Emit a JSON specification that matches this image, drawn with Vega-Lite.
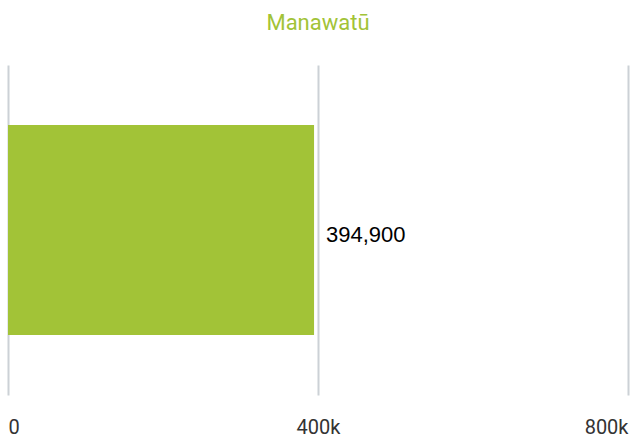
{
  "$schema": "https://vega.github.io/schema/vega-lite/v6.json",
  "autosize": "none",
  "width": 620,
  "height": 330,
  "padding": {"left": 8, "top": 65, "right": 4, "bottom": 43},
  "background": "white",
  "title": {
    "text": "Manawatū",
    "color": "#a2c337",
    "font": "Roboto",
    "fontSize": 22,
    "fontWeight": "normal",
    "anchor": "middle",
    "offset": 30
  },
  "data": {"values": [{"region": "Manawatū", "value": 394900}]},
  "config": {"view": {"stroke": null}, "font": "Roboto"},
  "encoding": {
    "y": {"field": "region", "type": "nominal", "axis": null, "scale": {"paddingInner": 0.222, "paddingOuter": 0.222}},
    "x": {
      "field": "value",
      "type": "quantitative",
      "scale": {"domain": [0, 800000], "nice": false},
      "axis": {
        "title": null,
        "values": [0, 400000, 800000],
        "labelExpr": "datum.value == 0 ? '0' : format(datum.value/1000, 'd') + 'k'",
        "domain": false,
        "ticks": false,
        "grid": true,
        "gridColor": "#ccd1d6",
        "gridWidth": 2,
        "labelFlush": true,
        "labelPadding": 22,
        "labelFontSize": 20,
        "labelColor": "#333333",
        "labelFont": "Roboto"
      }
    }
  },
  "layer": [
    {"mark": {"type": "bar", "color": "#a2c337"}},
    {
      "mark": {"type": "text", "align": "left", "dx": 12, "dy": 5, "fontSize": 22, "color": "#000000", "font": "Liberation Sans", "baseline": "middle"},
      "encoding": {"text": {"field": "value", "type": "quantitative", "format": ","}}
    }
  ]
}
